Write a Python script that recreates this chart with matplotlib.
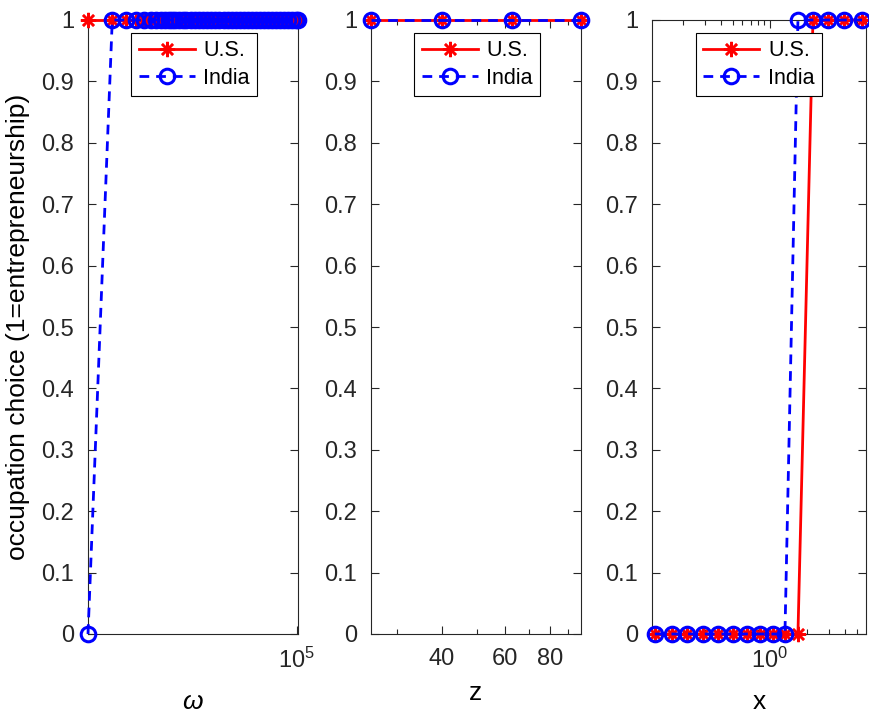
import numpy as np
import matplotlib
matplotlib.use('Agg')
import matplotlib.pyplot as plt
from matplotlib.ticker import FixedLocator, NullLocator, NullFormatter, LogLocator

plt.rcParams['font.family'] = ['Liberation Sans', 'DejaVu Sans']
plt.rcParams['mathtext.fontset'] = 'custom'
plt.rcParams['mathtext.rm'] = 'Liberation Sans'
plt.rcParams['mathtext.it'] = 'Liberation Sans:italic'

# panel 1: wealth grid omega
omega = [258, 516, 774, 1030, 1290, 1550, 1810, 2070, 2300, 2580, 2850, 3100,
         3450, 3870, 4300, 4900, 5500, 6200, 6900, 7800, 8700, 9800, 11000,
         12400, 13900, 15600, 17500, 19600, 22000, 24700, 27700, 31100, 34900,
         39200, 44000, 49400, 55400, 62200, 69800, 78400, 88000, 98800, 103000]
occ_us_omega = [1] * len(omega)
occ_in_omega = [0] + [1] * (len(omega) - 1)

# panel 2: z grid
z = [25.4, 40.0, 62.6, 97.7]
occ_us_z = [1, 1, 1, 1]
occ_in_z = [1, 1, 1, 1]

# panel 3: x grid
xg = [0.118, 0.162, 0.214, 0.288, 0.381, 0.503, 0.653, 0.830, 1.057, 1.32,
      1.68, 2.22, 2.94, 3.95, 5.52]
occ_us_x = [0] * 11 + [1] * 4
occ_in_x = [0] * 10 + [1] * 5

yticks = [0, 0.1, 0.2, 0.3, 0.4, 0.5, 0.6, 0.7, 0.8, 0.9, 1]
yticklabels = ['0', '0.1', '0.2', '0.3', '0.4', '0.5', '0.6', '0.7', '0.8', '0.9', '1']

W, H = 870, 715
fig = plt.figure(figsize=(W / 100, H / 100), dpi=100)

def make_ax(left, right):
    return fig.add_axes([left / W, (H - 634) / H, (right - left) / W, 614 / H])

axes = [make_ax(88, 298), make_ax(371, 581), make_ax(652, 866)]
data = [(omega, occ_us_omega, occ_in_omega),
        (z, occ_us_z, occ_in_z),
        (xg, occ_us_x, occ_in_x)]

axcol = '#262626'
for ax, (xv, us, ind) in zip(axes, data):
    ax.plot(xv, us, color='red', linestyle='-', linewidth=2, marker=(8, 2, 0),
            markersize=11, markeredgewidth=1.8, clip_on=False, label='U.S.', zorder=3)
    ax.plot(xv, ind, color='blue', linestyle='--', linewidth=2, marker='o',
            markersize=10.5, markeredgewidth=2.2, markerfacecolor='none',
            dashes=(3.5, 2.5), clip_on=False, label='India', zorder=4)
    ax.set_xscale('log')
    ax.set_ylim(0, 1)
    ax.set_yticks(yticks)
    ax.set_yticklabels(yticklabels)
    ax.tick_params(which='both', direction='in', top=True, right=True,
                   labelsize=17, colors=axcol, width=0.8)
    ax.tick_params(which='major', length=6)
    ax.tick_params(which='minor', length=3.5)
    ax.tick_params(axis='x', pad=10)
    ax.tick_params(axis='y', pad=10)
    for s in ax.spines.values():
        s.set_color(axcol)
        s.set_linewidth(0.8)
    leg = ax.legend(loc='upper left', bbox_to_anchor=(0.205, 0.979), fontsize=15.5,
                    frameon=True, fancybox=False, edgecolor='black', framealpha=1,
                    handlelength=2.6, borderpad=0.35, labelspacing=0.3,
                    handletextpad=0.4, borderaxespad=0)
    leg.get_frame().set_linewidth(0.8)

ax1, ax2, ax3 = axes
ax1.set_xlim(omega[0], 1.04e5)
ax1.xaxis.set_major_locator(FixedLocator([1e5]))
ax1.xaxis.set_minor_locator(NullLocator())
ax1.set_xlabel(r'$\omega$', fontsize=19, labelpad=12)
ax1.set_ylabel('occupation choice (1=entrepreneurship)', fontsize=19, labelpad=8)

ax2.set_xlim(z[0], z[-1])
ax2.xaxis.set_major_locator(FixedLocator([40, 60, 80]))
ax2.set_xticklabels(['40', '60', '80'])
ax2.xaxis.set_minor_locator(FixedLocator([30, 50, 70, 90]))
ax2.xaxis.set_minor_formatter(NullFormatter())
ax2.set_xlabel('z', fontsize=19, labelpad=8)

ax3.set_xlim(0.112, 5.94)
ax3.xaxis.set_major_locator(FixedLocator([1.0]))
ax3.xaxis.set_minor_locator(LogLocator(base=10, subs=np.arange(2, 10)))
ax3.xaxis.set_minor_formatter(NullFormatter())
ax3.set_xlabel('x', fontsize=19, labelpad=12)

fig.savefig('out.png', dpi=100)
